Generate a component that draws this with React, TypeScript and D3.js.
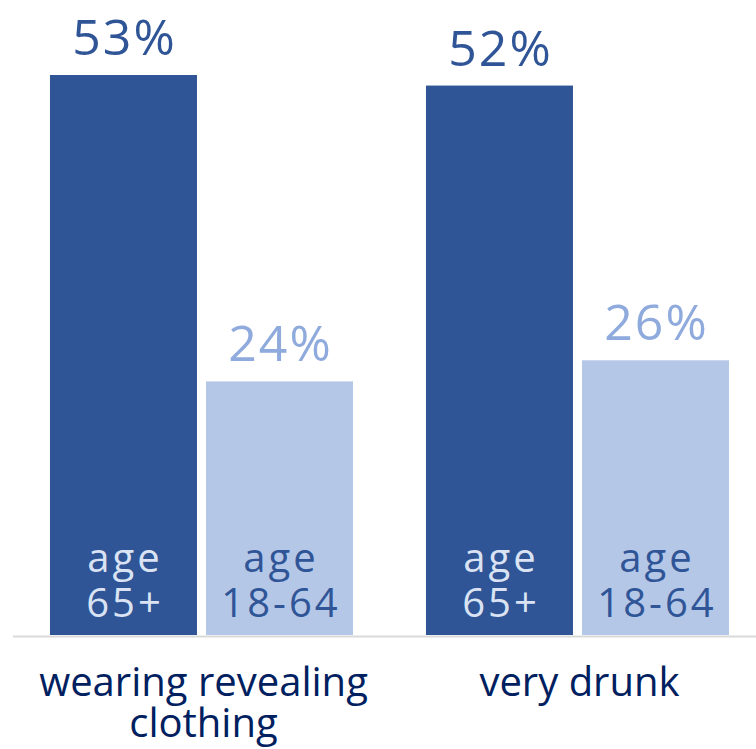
import React from "react";
import * as d3 from "d3";

const categories = ["wearing revealing|clothing", "very drunk"];
const series = ["age|65+", "age|18-64"];
const valuesOld = [53, 52];
const valuesYoung = [24, 26];

const W = 756;
const H = 749;
const BASE = 635;

const COLORS = {
  barDark: "#2F5597",
  barLight: "#B4C7E7",
  valDark: "#2F5597",
  valLight: "#8FAADC",
  ageOnDark: "#DAE3F3",
  ageOnLight: "#2F5597",
  cat: "#002060",
  axis: "#D9D9D9",
};

export default function App() {
  const x0 = d3
    .scaleBand<string>()
    .domain(categories)
    .range([13.5, 765.5])
    .paddingInner(0.194)
    .paddingOuter(0.097);
  const x1 = d3
    .scaleBand<string>()
    .domain(series)
    .range([0, x0.bandwidth()])
    .paddingInner(0.058);
  const y = d3.scaleLinear().domain([0, 53]).range([BASE, 75]);

  const font = "'Open Sans', 'Noto Sans', sans-serif";

  return (
    <svg
      width={W}
      height={H}
      style={{ position: "absolute", left: 0, top: 0, background: "#fff" }}
    >
      {categories.map((cat, ci) => {
        const vals = [valuesOld[ci], valuesYoung[ci]];
        return (
          <g key={cat} transform={`translate(${x0(cat)},0)`}>
            {series.map((s, si) => {
              const v = vals[si];
              const bx = x1(s)!;
              const bw = x1.bandwidth();
              const cx = bx + bw / 2;
              const dark = si === 0;
              const [l1, l2] = s.split("|");
              return (
                <g key={s}>
                  <rect
                    x={bx}
                    y={y(v)}
                    width={bw}
                    height={BASE - y(v)}
                    fill={dark ? COLORS.barDark : COLORS.barLight}
                  />
                  <text
                    x={cx + 1}
                    y={y(v) - 20}
                    textAnchor="middle"
                    fontFamily={font}
                    fontSize={50}
                    fontWeight={500}
                    letterSpacing={2}
                    fill={dark ? COLORS.valDark : COLORS.valLight}
                  >
                    {v}%
                  </text>
                  <text
                    textAnchor="middle"
                    fontFamily={font}
                    fontSize={40}
                    letterSpacing={3}
                    fill={dark ? COLORS.ageOnDark : COLORS.ageOnLight}
                  >
                    <tspan x={cx + 1.5} y={572}>{l1}</tspan>
                    <tspan x={cx + 1.5} y={617}>{l2}</tspan>
                  </text>
                </g>
              );
            })}
            <text
              textAnchor="middle"
              fontFamily={font}
              fontSize={40}
              fill={COLORS.cat}
            >
              {cat.split("|").map((t, i) => (
                <tspan key={i} x={x0.bandwidth() / 2 + 2} y={696 + i * 41}>
                  {t}
                </tspan>
              ))}
            </text>
          </g>
        );
      })}
      <line
        x1={13}
        x2={W}
        y1={BASE + 1.5}
        y2={BASE + 1.5}
        stroke={COLORS.axis}
        strokeWidth={2}
      />
    </svg>
  );
}
